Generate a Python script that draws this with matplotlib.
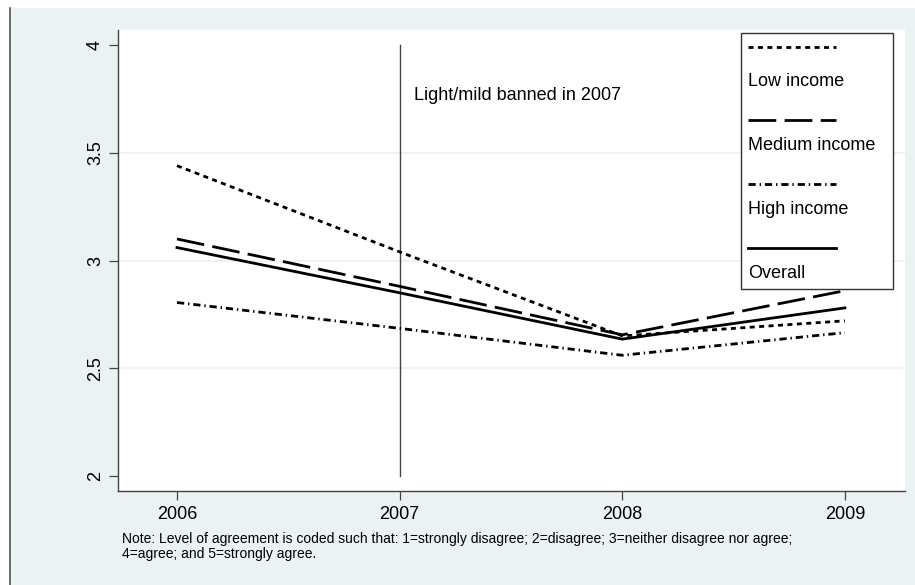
import matplotlib

matplotlib.use("Agg")
import matplotlib.pyplot as plt
from matplotlib.patches import Rectangle
from matplotlib.lines import Line2D

# --- data ------------------------------------------------------------------
years = [2006, 2007, 2008, 2009]
low_income = [3.44, 3.04, 2.65, 2.72]
medium_income = [3.10, 2.88, 2.655, 2.86]
high_income = [2.805, 2.685, 2.56, 2.665]
overall = [3.06, 2.85, 2.635, 2.78]

series_labels = ["Low income", "Medium income", "High income", "Overall"]
y_ticks = [2, 2.5, 3, 3.5, 4]
y_tick_labels = ["2", "2.5", "3", "3.5", "4"]
ban_year = 2007
note = ("Note: Level of agreement is coded such that: 1=strongly disagree; 2=disagree; "
        "3=neither disagree nor agree;\n4=agree; and 5=strongly agree.")

# Stata s2color-ish look
BG = "#EAF2F3"
plt.rcParams["font.family"] = ["Liberation Sans", "DejaVu Sans"]

fig = plt.figure(figsize=(9.15, 5.85), dpi=100)
W, H = 915, 585

# graph region: light blue panel with a dark left edge (behind the axes)
fig.patches.append(Rectangle((10 / W, 0), 1 - 10 / W, 1 - 8 / H, transform=fig.transFigure,
                             facecolor=BG, edgecolor="none", zorder=-10))
fig.lines.append(Line2D([10 / W, 10 / W], [0, 1 - 8 / H], transform=fig.transFigure,
                        color="#555555", lw=1.2, zorder=-9))

ax = fig.add_axes([118 / W, 1 - 491 / H, (905 - 118) / W, (491 - 30) / H])
ax.set_facecolor("white")

styles = [
    dict(linestyle=(0, (1.8, 1.6))),
    dict(linestyle=(0, (10, 3))),
    dict(linestyle=(0, (2.6, 1.4, 0.5, 1.4))),
    dict(linestyle="-"),
]
for vals, st in zip([low_income, medium_income, high_income, overall], styles):
    ax.plot(years, vals, color="black", lw=2.0, **st, zorder=3)

# policy marker
ax.plot([ban_year, ban_year], [y_ticks[0], y_ticks[-1]], color="#444444", lw=1.0, zorder=2)
ax.text(ban_year + 0.065, 3.765, "Light/mild banned in 2007", fontsize=13, va="center", ha="left")

ax.set_xlim(2005.735, 2009.27)
ax.set_ylim(1.93, 4.07)
ax.set_xticks(years)
ax.set_xticklabels([str(y) for y in years], fontsize=13)
ax.set_yticks(y_ticks)
ax.set_yticklabels(y_tick_labels, fontsize=13, rotation=90, va="center")
for g in y_ticks[1:-1]:
    ax.axhline(g, color=BG, lw=1.3, zorder=1)

for side in ["top", "right"]:
    ax.spines[side].set_visible(False)
for side in ["left", "bottom"]:
    ax.spines[side].set_color("#444444")
    ax.spines[side].set_linewidth(1.0)
ax.tick_params(axis="both", direction="out", length=6.5, width=0.9, color="#444444")
ax.tick_params(axis="x", pad=4.5)
ax.tick_params(axis="y", pad=3.5)

# legend box with keys stacked above labels (Stata style)
lx0, lx1 = (741 - 118) / (905 - 118), (893 - 118) / (905 - 118)
def ay(py):
    return (491 - py) / (491 - 30)
ax.add_patch(Rectangle((lx0, ay(289)), lx1 - lx0, ay(33) - ay(289), transform=ax.transAxes,
                       facecolor="white", edgecolor="#333333", lw=1.0, zorder=5))
key_y = [47, 120, 184, 248]
lab_y = [82, 145, 210, 273]
kx0, kx1 = (748 - 118) / (905 - 118), (836 - 118) / (905 - 118)
for st, lab, ky, ty in zip(styles, series_labels, key_y, lab_y):
    ax.add_line(Line2D([kx0, kx1], [ay(ky), ay(ky)], transform=ax.transAxes,
                       color="black", lw=2.0, zorder=6, **st))
    ax.text(kx0, ay(ty), lab, transform=ax.transAxes, fontsize=13, va="center",
            ha="left", zorder=6)

fig.text(122 / W, 1 - 532 / H, note, fontsize=10, va="top", ha="left", linespacing=1.1)

fig.savefig("out.png", dpi=100)
